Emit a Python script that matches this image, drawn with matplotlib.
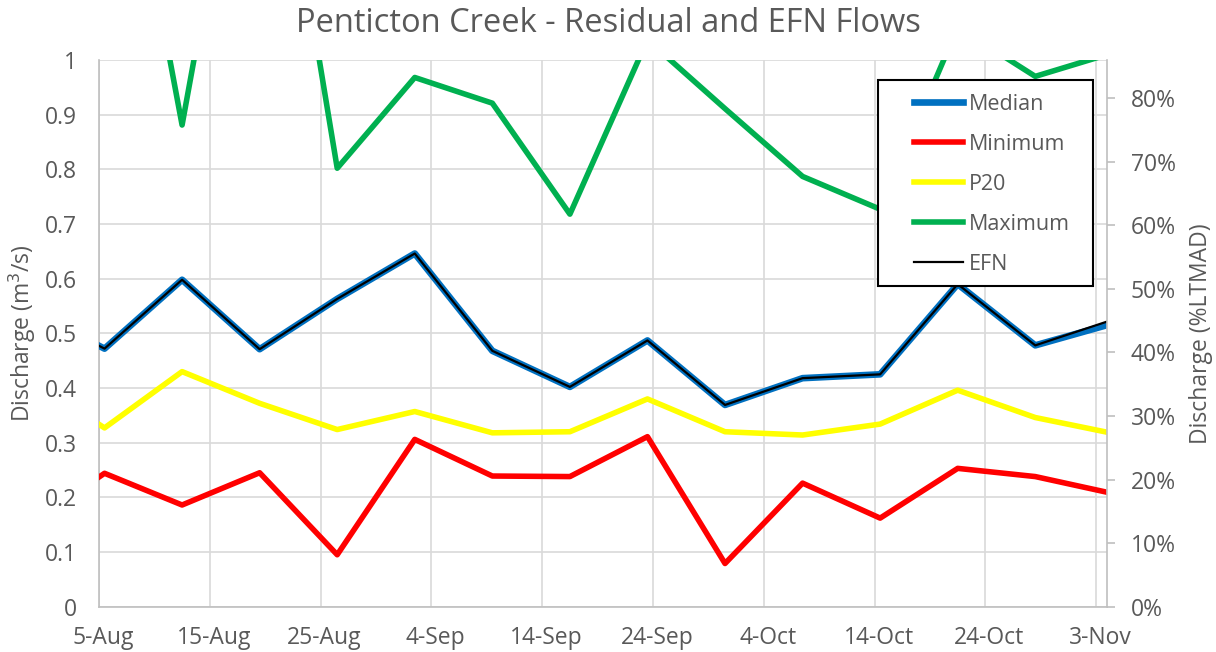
import numpy as np
import pandas as pd
import matplotlib
matplotlib.use("Agg")
import matplotlib.pyplot as plt
import matplotlib.transforms as mtransforms
from matplotlib.patches import Rectangle

plt.rcParams['font.family'] = ['Open Sans', 'DejaVu Sans']

# --- data (weekly values) ---
dates = pd.to_datetime([
    "2021-07-29 12:00", "2021-08-05 12:00", "2021-08-12 12:00", "2021-08-19 12:00",
    "2021-08-26 12:00", "2021-09-02 12:00", "2021-09-09 12:00", "2021-09-16 12:00",
    "2021-09-23 12:00", "2021-09-30 12:00", "2021-10-07 12:00", "2021-10-14 12:00",
    "2021-10-21 12:00", "2021-10-28 12:00", "2021-11-04 12:00",
])
median = [0.545, 0.472, 0.598, 0.471, 0.563, 0.646, 0.468, 0.402, 0.487, 0.369,
          0.418, 0.425, 0.590, 0.478, 0.518]
minimum = [0.147, 0.244, 0.186, 0.245, 0.095, 0.306, 0.239, 0.238, 0.311, 0.079,
           0.226, 0.162, 0.253, 0.238, 0.207]
p20 = [0.420, 0.327, 0.430, 0.372, 0.324, 0.357, 0.318, 0.320, 0.380, 0.320,
       0.314, 0.334, 0.396, 0.346, 0.317]
maximum = [1.50, 1.64, 0.881, 1.66, 0.802, 0.968, 0.921, 0.718, 1.037, 0.911,
           0.787, 0.727, 1.060, 0.970, 1.013]
efn = [0.545, 0.472, 0.598, 0.471, 0.563, 0.646, 0.468, 0.402, 0.487, 0.369,
       0.418, 0.425, 0.590, 0.478, 0.525]

LTMAD = 1.163  # m3/s, long-term mean annual discharge (from right axis scale)

x_start = pd.Timestamp("2021-08-05")
x_end = pd.Timestamp("2021-11-04")
tick_dates = pd.date_range(x_start, periods=10, freq="10D")

grey = "#595959"
grid_c = "#d9d9d9"
spine_c = "#bfbfbf"
fs = 16.5

fig = plt.figure(figsize=(12.16, 6.52), dpi=100)
ax = fig.add_axes([0.0814, 0.0695, 0.8292, 0.8385])
ax2 = ax.twinx()

ax.plot(dates, median, color="#0070C0", lw=4.8, zorder=3, label="Median")
ax.plot(dates, minimum, color="#FF0000", lw=4.0, zorder=3, label="Minimum")
ax.plot(dates, p20, color="#FFFF00", lw=4.0, zorder=3, label="P20")
ax.plot(dates, maximum, color="#00B050", lw=4.0, zorder=3, label="Maximum")
ax.plot(dates, efn, color="black", lw=1.6, zorder=4, label="EFN")

ax.set_xlim(x_start, x_end)
ax.set_ylim(0, 1)
ax.set_yticks(np.arange(0, 1.01, 0.1))
ax.set_yticklabels(["0", "0.1", "0.2", "0.3", "0.4", "0.5", "0.6", "0.7", "0.8", "0.9", "1"])
ax.set_xticks(tick_dates)
ax.set_xticklabels([f"{d.day}-{d.strftime('%b')}" for d in tick_dates])

ax.grid(True, color=grid_c, lw=1.2, zorder=0)
ax.set_axisbelow(True)
ax.tick_params(axis="both", length=0, labelsize=fs, labelcolor=grey)
ax.tick_params(axis="y", pad=16)
ax.tick_params(axis="x", pad=14)
offset = mtransforms.ScaledTranslation(4 / 100, 0, fig.dpi_scale_trans)
for lab in ax.get_xticklabels():
    lab.set_transform(lab.get_transform() + offset)

ax.spines["top"].set_visible(False)
ax2.spines["top"].set_visible(False)
ax.spines["left"].set_color(spine_c)
ax.spines["bottom"].set_color(spine_c)
ax.spines["right"].set_visible(False)
ax2.spines["left"].set_visible(False)
ax2.spines["bottom"].set_visible(False)
ax2.spines["right"].set_color(spine_c)
for s in ax.spines.values():
    s.set_linewidth(1.2)
ax2.spines["right"].set_linewidth(1.2)

ax2.set_ylim(0, 100 / LTMAD)
ax2.set_yticks(np.arange(0, 81, 10))
ax2.set_yticklabels([f"{v}%" for v in range(0, 81, 10)])
ax2.tick_params(axis="y", length=6, width=1.2, color=spine_c, labelsize=fs,
                labelcolor=grey, pad=11)

ax.set_ylabel("Discharge (m$^3$/s)", fontsize=fs, color=grey, labelpad=5)
ax2.set_ylabel("Discharge (%LTMAD)", fontsize=fs, color=grey, labelpad=9)

fig.suptitle("Penticton Creek - Residual and EFN Flows", fontsize=23.5, color=grey, y=0.99)

# legend: white box with black frame over the lines
frame = Rectangle((877.7 / 1216, 366 / 652), 215 / 1216, 206 / 652,
                  transform=fig.transFigure, facecolor="white", edgecolor="black",
                  lw=1.5, zorder=10)
ax2.add_patch(frame)
frame.set_clip_on(False)
handles, labels = ax.get_legend_handles_labels()
leg = ax2.legend(handles, labels, loc="upper left", frameon=False,
                 bbox_to_anchor=(903 / 1216, 1 - 83 / 652), bbox_transform=fig.transFigure,
                 fontsize=15.5, handlelength=2.3, handletextpad=0.25, labelspacing=0.88,
                 borderpad=0, labelcolor=grey)
leg.set_zorder(11)

fig.savefig("out.png", dpi=100)
